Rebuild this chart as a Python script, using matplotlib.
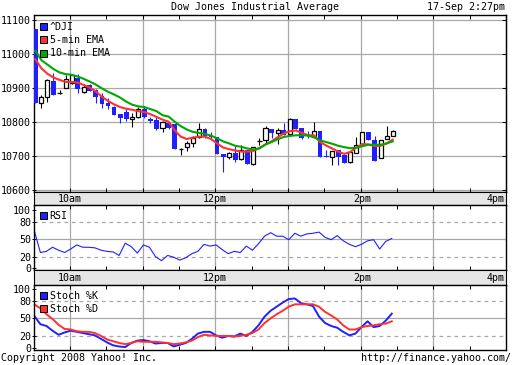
import numpy as np
import matplotlib
matplotlib.use('Agg')
import matplotlib.pyplot as plt
from matplotlib.patches import Patch

plt.rcParams['font.family'] = 'DejaVu Sans Mono'
plt.rcParams['font.size'] = 7.2

# 5-minute bars from 9:30
opens = [11073, 10855, 10875, 10921, 10886, 10899, 10916, 10930, 10889, 10909,
         10894, 10877, 10857, 10845, 10823, 10829, 10809, 10814, 10839, 10808,
         10806, 10781, 10796, 10794, 10721, 10726, 10737, 10757, 10779, 10758,
         10757, 10706, 10696, 10708, 10690, 10718, 10677, 10745, 10747, 10779,
         10768, 10777, 10765, 10809, 10782, 10766, 10756, 10774, 10699, 10697,
         10718, 10703, 10682, 10709, 10735, 10771, 10747, 10694, 10750, 10759]
highs = [11073, 10880, 10928, 10945, 10893, 10938, 10941, 10941, 10912, 10912,
         10896, 10885, 10870, 10848, 10825, 10837, 10826, 10845, 10843, 10816,
         10814, 10804, 10798, 10794, 10723, 10745, 10759, 10796, 10782, 10770,
         10757, 10706, 10713, 10730, 10733, 10718, 10726, 10753, 10788, 10780,
         10782, 10797, 10812, 10809, 10782, 10774, 10800, 10774, 10718, 10715,
         10718, 10703, 10712, 10756, 10771, 10771, 10759, 10747, 10788, 10777]
lows = [10855, 10840, 10860, 10880, 10881, 10899, 10912, 10884, 10884, 10890,
        10857, 10840, 10837, 10820, 10798, 10804, 10786, 10811, 10811, 10798,
        10776, 10771, 10778, 10720, 10703, 10716, 10727, 10752, 10752, 10750,
        10706, 10654, 10690, 10683, 10688, 10677, 10674, 10732, 10735, 10753,
        10735, 10762, 10765, 10779, 10750, 10753, 10756, 10697, 10697, 10674,
        10674, 10679, 10680, 10709, 10735, 10747, 10685, 10694, 10750, 10759]
closes = [10855, 10875, 10924, 10880, 10886, 10926, 10937, 10896, 10902, 10892,
          10875, 10852, 10847, 10821, 10813, 10808, 10816, 10837, 10816, 10804,
          10780, 10800, 10783, 10720, 10721, 10737, 10754, 10779, 10759, 10756,
          10706, 10696, 10710, 10688, 10718, 10677, 10726, 10745, 10782, 10768,
          10777, 10762, 10809, 10779, 10753, 10764, 10774, 10697, 10697, 10715,
          10697, 10679, 10712, 10732, 10771, 10747, 10685, 10747, 10759, 10774]

ema5 = [10985, 10958, 10942, 10931, 10924, 10918, 10918, 10916, 10909, 10901,
        10890, 10874, 10862, 10852, 10844, 10839, 10836, 10832, 10829, 10823,
        10815, 10807, 10801, 10776, 10757, 10750, 10754, 10757, 10757, 10750,
        10737, 10725, 10720, 10716, 10713, 10713, 10715, 10724, 10734, 10743,
        10755, 10766, 10773, 10775, 10768, 10761, 10761, 10741, 10731, 10722,
        10713, 10706, 10712, 10725, 10735, 10734, 10729, 10730, 10737, 10748]
ema10 = [11010, 10982, 10969, 10956, 10946, 10941, 10939, 10934, 10927, 10919,
         10910, 10899, 10889, 10881, 10872, 10860, 10851, 10846, 10844, 10838,
         10832, 10820, 10816, 10801, 10788, 10778, 10771, 10768, 10765, 10760,
         10752, 10743, 10737, 10730, 10727, 10722, 10719, 10722, 10734, 10741,
         10749, 10756, 10759, 10761, 10761, 10760, 10755, 10746, 10741, 10736,
         10730, 10726, 10723, 10724, 10729, 10733, 10733, 10733, 10737, 10743]

rsi = [64, 27, 29, 36, 31, 27, 33, 40, 36, 36, 35, 31, 29, 28, 22, 43, 37, 26, 40, 36,
       20, 13, 22, 19, 14, 18, 25, 29, 41, 38, 40, 32, 25, 29, 27, 38, 31, 42, 55, 61,
       55, 55, 49, 60, 55, 59, 60, 62, 53, 49, 56, 47, 41, 37, 41, 47, 49, 33, 46, 51]
stoch_k = [54, 40, 37, 29, 22, 26, 29, 27, 25, 23, 21, 15, 9, 4, 2, 1, 8, 12, 13, 11,
           7, 8, 8, 2, 5, 8, 15, 24, 27, 27, 21, 17, 20, 19, 24, 20, 27, 38, 53, 63,
           70, 77, 83, 84, 76, 74, 71, 53, 42, 37, 34, 27, 21, 24, 35, 45, 35, 37, 46, 58]
stoch_d = [74, 67, 57, 49, 39, 32, 31, 28, 27, 27, 25, 20, 14, 11, 8, 6, 8, 11, 10, 10,
           10, 9, 8, 6, 7, 9, 12, 18, 22, 21, 20, 20, 20, 19, 20, 22, 25, 31, 42, 50,
           57, 63, 70, 74, 74, 74, 74, 70, 61, 55, 48, 38, 31, 31, 35, 37, 38, 40, 41, 45]

price_ticks = [10600, 10700, 10800, 10900, 11000, 11100]
osc_ticks = [0, 20, 50, 80, 100]
time_labels = ['10am', '12pm', '2pm', '4pm']
time_label_pos = [30, 150, 271, 389]   # minutes after 9:30

BLUE = '#2020ff'
RED = '#ff3030'
GREEN = '#00a800'
GRID = '#a8a8a8'

t = np.arange(len(opens)) * 5 + 1.5
hours = np.arange(30, 390, 60)
halfhours = np.arange(0, 391, 30)

W, H = 512, 365
fig = plt.figure(figsize=(W / 100, H / 100), dpi=100)


def box(top, bottom, left=33.5, right=506):
    return [left / W, 1 - bottom / H, (right - left) / W, (bottom - top) / H]


def style(ax):
    ax.set_xlim(0, 390)
    ax.set_xticks(halfhours)
    ax.set_xticklabels([])
    ax.tick_params(axis='x', which='both', direction='in', length=3, top=True, bottom=True,
                   width=0.7)
    ax.tick_params(axis='y', direction='inout', length=3, pad=0.3, width=0.7)
    for s in ax.spines.values():
        s.set_linewidth(1)
    for h in hours:
        ax.axvline(h, color=GRID, lw=0.9, zorder=0)


# price panel
ax = fig.add_axes(box(15, 192))
style(ax)
ax.set_ylim(10594, 11115)
ax.set_yticks(price_ticks)
for p in price_ticks:
    ax.axhline(p, color=GRID, lw=0.9, zorder=0)
axr = ax.secondary_yaxis('right')
axr.set_yticks(price_ticks)
axr.set_yticklabels([])
axr.tick_params(direction='in', length=3, width=0.7)

opens_a = np.array(opens)
closes_a = np.array(closes)
down = closes_a < opens_a
up = ~down
ax.vlines(t[up], np.array(lows)[up], np.array(highs)[up], color='black', lw=0.8, zorder=2)
ax.vlines(t[down], np.array(lows)[down], np.array(highs)[down], color=BLUE, lw=0.8, zorder=2)
ax.bar(t[up], (closes_a - opens_a)[up], bottom=opens_a[up], width=3.4,
       facecolor='white', edgecolor='black', lw=0.9, zorder=3)
ax.bar(t[down], (closes_a - opens_a)[down], bottom=opens_a[down], width=4.0,
       color=BLUE, lw=0, zorder=3)
ax.plot(t, ema5, color=RED, lw=1.5, zorder=4)
ax.plot(t, ema10, color=GREEN, lw=1.5, zorder=4)
ax.legend(handles=[Patch(facecolor=BLUE, edgecolor='black', lw=0.7, label='^DJI'),
                   Patch(facecolor=RED, edgecolor='black', lw=0.7, label='5-min EMA'),
                   Patch(facecolor=GREEN, edgecolor='black', lw=0.7, label='10-min EMA')],
          loc='upper left', frameon=False, handlelength=0.7, handleheight=0.7,
          handletextpad=0.3, borderaxespad=0.35, borderpad=0.3, labelspacing=0.35)


def band(top, bottom):
    b = fig.add_axes(box(top, bottom))
    b.set_facecolor('#e6e6e6')
    b.set_xlim(0, 390)
    b.set_ylim(0, 1)
    b.set_yticks([])
    b.set_xticks([])
    for lab, pos in zip(time_labels, time_label_pos):
        b.text(pos, 0.45, lab, ha='right' if lab == '4pm' else 'center', va='center')


band(192, 205)


def oscillator(top, bottom, lines, ylim):
    a = fig.add_axes(box(top, bottom))
    style(a)
    a.set_ylim(*ylim)
    a.set_yticks(osc_ticks)
    a.axhline(50, color=GRID, lw=0.9, zorder=0)
    for lv in (20, 80):
        a.axhline(lv, color=GRID, lw=0.9, ls=(0, (3, 3)), zorder=0)
    handles = []
    for vals, col, lw, lab in lines:
        a.plot(t - 0.8, vals, color=col, lw=lw)
        handles.append(Patch(facecolor=col, edgecolor='black', lw=0.7, label=lab))
    a.legend(handles=handles, loc='upper left', frameon=False, handlelength=0.7,
             handleheight=0.7, handletextpad=0.3, borderaxespad=0.2, borderpad=0.4,
             labelspacing=0.3)
    return a


oscillator(205, 270, [(rsi, BLUE, 0.8, 'RSI')], (-3, 108.5))
band(270, 285)
oscillator(285, 350, [(stoch_k, BLUE, 1.4, 'Stoch %K'), (stoch_d, RED, 1.4, 'Stoch %D')],
           (-4, 107))

fig.text(255 / W, 1 - 7 / H, 'Dow Jones Industrial Average', ha='center', va='center')
fig.text(505 / W, 1 - 7 / H, '17-Sep 2:27pm', ha='right', va='center')
fig.text(1 / W, 1 - 358 / H, 'Copyright 2008 Yahoo! Inc.', ha='left', va='center')
fig.text(511 / W, 1 - 358 / H, 'http://finance.yahoo.com/', ha='right', va='center')

fig.savefig('out.png', dpi=100)
